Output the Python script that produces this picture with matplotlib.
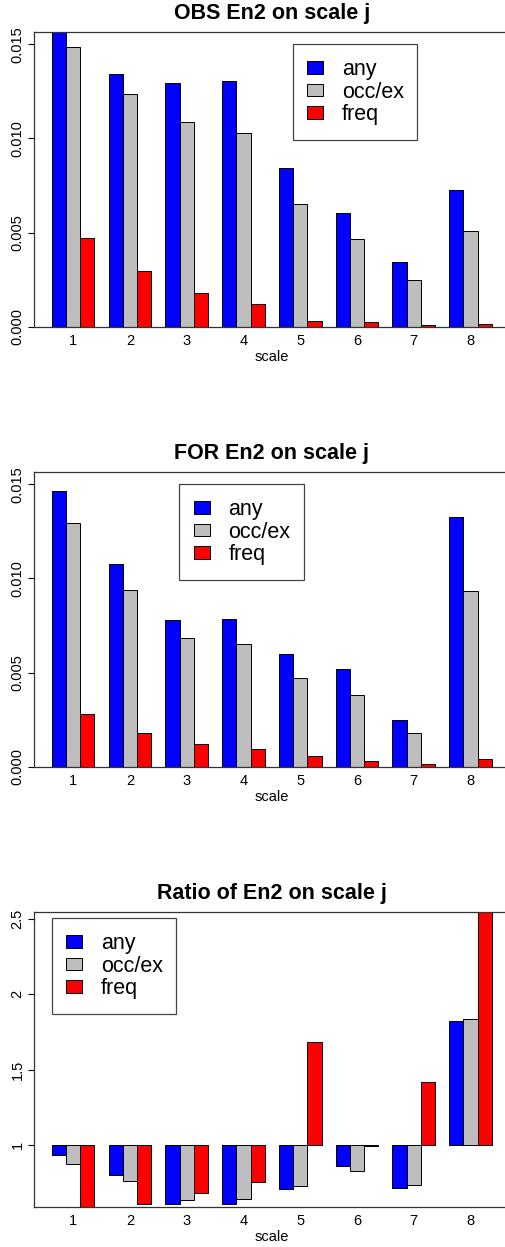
import matplotlib
matplotlib.use('Agg')
import matplotlib.pyplot as plt
from matplotlib.patches import Patch
import numpy as np

plt.rcParams['font.family'] = ['Liberation Sans', 'DejaVu Sans']

scales = ['1', '2', '3', '4', '5', '6', '7', '8']
series = ['any', 'occ/ex', 'freq']
colors = ['#0000FF', '#BEBEBE', '#FF0000']

obs_any = [0.01567, 0.01344, 0.01296, 0.01307, 0.00841, 0.00606, 0.00342, 0.00724]
obs_occ = [0.01484, 0.01236, 0.01089, 0.01029, 0.00652, 0.00464, 0.00248, 0.00507]
obs_freq = [0.00473, 0.00296, 0.00177, 0.00120, 0.00032, 0.00027, 0.00007, 0.00012]

for_any = [0.01465, 0.01075, 0.00777, 0.00783, 0.00597, 0.00521, 0.00246, 0.01325]
for_occ = [0.01296, 0.00939, 0.00685, 0.00652, 0.00471, 0.00381, 0.00181, 0.00935]
for_freq = [0.00278, 0.00179, 0.00122, 0.00092, 0.00058, 0.00028, 0.00014, 0.00039]

ratio_any = [0.934, 0.799, 0.603, 0.603, 0.709, 0.861, 0.715, 1.820]
ratio_occ = [0.872, 0.762, 0.632, 0.636, 0.724, 0.824, 0.729, 1.836]
ratio_freq = [0.588, 0.605, 0.678, 0.755, 1.686, 0.993, 1.417, 2.550]

W, H = 506, 1247
fig = plt.figure(figsize=(W / 100, H / 100), dpi=100)

left = 34.33 / W
width = 475.1 / W
ph = 295.0 / H
tops = [31.7, 471.7, 911.7]

panels = [
    dict(title='OBS En2 on scale j', data=[obs_any, obs_occ, obs_freq], base=0.0,
         ylim=(0, 0.01567), yt=[0, 0.005, 0.010, 0.015],
         ytl=['0.000', '0.005', '0.010', '0.015'],
         leg=(292.7, 44.3, 124.3)),
    dict(title='FOR En2 on scale j', data=[for_any, for_occ, for_freq], base=0.0,
         ylim=(0, 0.01567), yt=[0, 0.005, 0.010, 0.015],
         ytl=['0.000', '0.005', '0.010', '0.015'],
         leg=(179.3, 484.3, 124.7)),
    dict(title='Ratio of En2 on scale j', data=[ratio_any, ratio_occ, ratio_freq], base=1.0,
         ylim=(0.588, 2.55), yt=[1, 1.5, 2, 2.5],
         ytl=['1', '1.5', '2', '2.5'],
         leg=(51.7, 918.3, 124.6)),
]

ngroups = len(scales)
for p, top in zip(panels, tops):
    bottom = 1 - (top + 295.0) / H
    ax = fig.add_axes([left, bottom, width, ph])
    for k, (vals, c) in enumerate(zip(p['data'], colors)):
        x = np.arange(ngroups) * 4 + 1 + k
        v = np.array(vals) - p['base']
        ax.bar(x, v, width=1.0, bottom=p['base'], align='edge', color=c,
               edgecolor='black', linewidth=0.7)
    ax.set_xlim(-0.24, 33.24)
    ax.set_ylim(*p['ylim'])
    ax.set_xticks(np.arange(ngroups) * 4 + 2.5)
    ax.set_xticklabels(scales, fontsize=10.5)
    ax.tick_params(axis='x', length=0, pad=5)
    ax.set_yticks(p['yt'])
    ax.set_yticklabels(p['ytl'], fontsize=10.5, rotation=90, va='center')
    ax.tick_params(axis='y', length=4, width=0.8, pad=3)
    ax.set_xlabel('scale', fontsize=10.5, labelpad=2)
    ax.set_title(p['title'], fontsize=15.5, fontweight='bold', pad=9)
    for s in ax.spines.values():
        s.set_linewidth(0.9)
        s.set_color('#333333')
    lx, ly, lw = p['leg']
    handles = [Patch(facecolor=c, edgecolor='black', linewidth=0.7) for c in colors]
    leg = ax.legend(handles, series, loc='upper left',
                    bbox_to_anchor=(lx / W, 1 - ly / H - 0.2, lw / W, 0.2),
                    bbox_transform=fig.transFigure, mode='expand',
                    fontsize=15.5, handlelength=0.75, handleheight=0.52,
                    handletextpad=0.85, labelspacing=0.08, borderpad=0.68,
                    borderaxespad=0, fancybox=False, framealpha=1,
                    edgecolor='#444444')
    leg.get_frame().set_linewidth(0.9)

fig.savefig('out.png', dpi=100)
